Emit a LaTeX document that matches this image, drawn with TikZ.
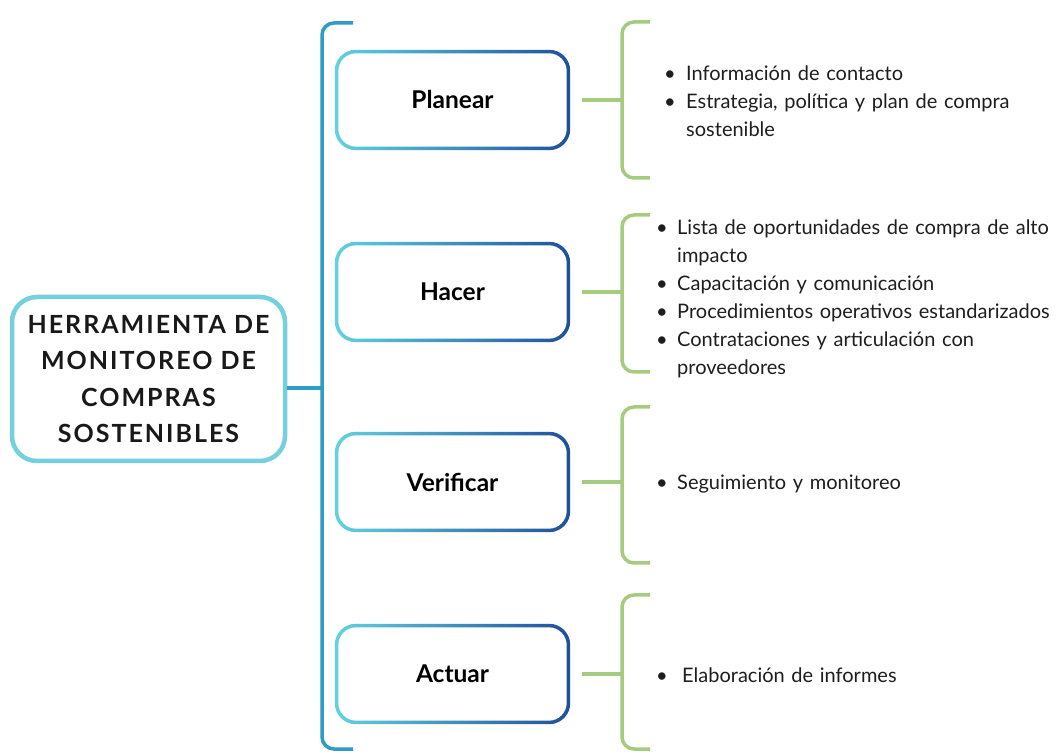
\documentclass[tikz,border=0pt]{standalone}
\usepackage{fontspec}
\setmainfont{Lato}
\pgfdeclarelayer{bg}
\pgfsetlayers{bg,main}
\definecolor{cyanL}{HTML}{62D2E0}
\definecolor{blueD}{HTML}{1E4F9C}
\definecolor{mainB}{HTML}{74D0DD}
\definecolor{spine}{HTML}{2E9CC4}
\definecolor{leaf}{HTML}{A6CA7E}
\definecolor{txt}{HTML}{1E1E1E}
\newcommand\bul[2][21pt]{\par\noindent\hangindent=#1\hangafter=1\makebox[#1][l]{\textbullet}#2\par}
\tikzset{
  phasebox/.style={minimum width=235pt, minimum height=100pt, inner sep=0pt,
    font=\fontsize{24.5}{28}\selectfont\bfseries, text=black},
  mainbox/.style={draw=mainB, line width=4.5pt, rounded corners=25pt, fill=white,
    minimum width=273pt, minimum height=164pt, inner sep=0pt, align=center,
    font=\fontsize{25}{36.5}\selectfont\bfseries\addfontfeatures{LetterSpace=8}, text=black!90},
  listbox/.style={anchor=west, inner sep=0pt, text width=420pt, text=txt,
    font=\fontsize{20}{28}\selectfont},
  spineline/.style={draw=spine, line width=3.5pt, rounded corners=12pt},
  leafline/.style={draw=leaf, line width=3.5pt, rounded corners=12pt},
  leaflink/.style={draw=leaf, line width=3.5pt},
  mainlink/.style={draw=spine, line width=3.5pt}
}
\begin{document}
\begin{tikzpicture}[x=1pt,y=1pt]
\begin{pgfonlayer}{bg}
\fill[white] (0,0) rectangle (1057,752);
\end{pgfonlayer}
\useasboundingbox (0,0) rectangle (1057,752);

% main node
\node[mainbox] (m) at (148.5,373) {HERRAMIENTA DE\\MONITOREO DE\\COMPRAS\\SOSTENIBLES};

% spine
\coordinate (st) at (353,729);
\coordinate (sb) at (353,3);
\coordinate (sj) at (322,364);
\draw[spineline] (st) -| (322,3) -- (sb);
\draw[mainlink] ([yshift=-9pt]m.east) -- (sj);

% phase boxes
\node[phasebox] (p) at (452.5,652) {Planear};
\node[phasebox] (h) at (452.5,460) {Hacer};
\node[phasebox] (v) at (452.5,270) {Verificar};
\node[phasebox] (a) at (452.5,78) {Actuar};
\begin{pgfonlayer}{bg}
\foreach \n in {p,h,v,a}{
  \shade[left color=cyanL, right color=blueD, rounded corners=21pt]
    (\n.south west) rectangle (\n.north east);
  \fill[white, rounded corners=18pt]
    ([shift={(3.5pt,3.5pt)}]\n.south west) rectangle ([shift={(-3.5pt,-3.5pt)}]\n.north east);
}
\end{pgfonlayer}

% brackets
\coordinate (bx) at (622,0);
\foreach \n/\t/\b in {p/730/574, h/537/380, v/345/189, a/157/3}{
  \draw[leafline] (650,\t) -| (622,\b) -- (650,\b);
  \draw[leaflink] ([xshift=12pt]\n.east) -- (\n.east -| bx);
}

% lists
\node[listbox] (lp) at (664,657) {\raggedright
\bul[22pt]{Información de contacto}
\bul[22pt]{Estrategia, política y plan de compra\newline sostenible}};
\node[listbox] (lh) at (656,460) {\raggedright
\bul{Lista de oportunidades de compra de alto\newline impacto}
\bul{Capacitación y comunicación}
\bul{Procedimientos operativos estandarizados}
\bul{Contrataciones y articulación con\newline proveedores}};
\node[listbox] (lv) at (656,275) {\raggedright\bul{Seguimiento y monitoreo}};
\node[listbox] (la) at (656,83) {\raggedright\bul[26pt]{Elaboración de informes}};
\end{tikzpicture}
\end{document}
